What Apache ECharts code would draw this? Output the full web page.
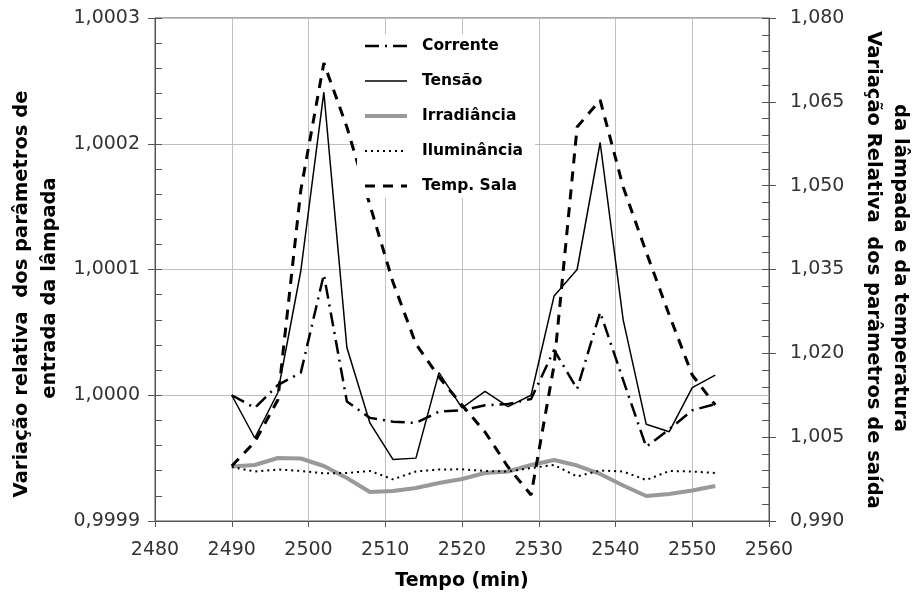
<!DOCTYPE html>
<html>
<head>
<meta charset="utf-8">
<script src="https://cdn.jsdelivr.net/npm/echarts@6/dist/echarts.min.js"></script>
<style>html,body{margin:0;padding:0;background:#fff;}#c{width:914px;height:598px;}</style>
</head>
<body>
<div id="c"></div>
<script>
const tempo = [2490,2493,2496,2499,2502,2505,2508,2511,2514,2517,2520,2523,2526,2529,2532,2535,2538,2541,2544,2547,2550,2553];
const corrente = [1.00000,0.99999,1.000008,1.000018,1.000096,0.999995,0.999982,0.999979,0.999978,0.999987,0.999988,0.999992,0.999993,0.999997,1.000036,1.000005,1.000066,1.000012,0.999959,0.999973,0.999988,0.999993];
const tensao = [1.00000,0.999966,1.000002,1.000099,1.000241,1.000038,0.999978,0.999949,0.99995,1.000018,0.99999,1.000003,0.999991,1.00000,1.000079,1.0001,1.000201,1.00006,0.999977,0.999971,1.000006,1.000016];
const irradiancia = [0.99975,1.00002,1.00127,1.00118,0.99984,0.99769,0.99519,0.99537,0.99590,0.99680,0.99751,0.99859,0.99886,1.00002,1.00091,0.99993,0.99841,0.99635,0.99447,0.99483,0.99546,0.99626];
const iluminancia = [0.99966,0.99886,0.99921,0.99895,0.99854,0.99859,0.99895,0.99746,0.99886,0.99921,0.99925,0.99895,0.99886,0.99948,1.00002,0.99796,0.99904,0.99886,0.99733,0.99895,0.99886,0.99859];
const tempSala = [0.99984,1.00414,1.01165,1.04922,1.07195,1.06050,1.04654,1.03276,1.02167,1.01576,1.01075,1.00592,0.99966,0.99465,1.01791,1.06050,1.06533,1.04976,1.03813,1.02686,1.01612,1.01075];

const seriesNames = ['Corrente','Tensão','Irradiância','Iluminância','Temp. Sala'];
const xTitle = 'Tempo (min)';
const leftTitle = ['Variação relativa  dos parâmetros de','entrada da lâmpada'];
const rightTitle = ['Variação Relativa  dos parâmetros de saída','da lâmpada e da temperatura'];

function pairs(ys){ return tempo.map((x,i)=>[x, ys[i]]); }

const labelFont = {fontFamily:'DejaVu Sans', fontSize:19, color:'#333'};
const axisColor = '#555';
const titleStyle = {fontFamily:'DejaVu Sans', fontWeight:'bold', fontSize:19.5, fill:'#000', textAlign:'center', textVerticalAlign:'middle'};

const styles = {
  'Corrente':    {color:'#000', width:2.5, type:[14,6,2,6]},
  'Tensão':      {color:'#000', width:1.5, type:'solid'},
  'Irradiância': {color:'#999', width:4, type:'solid'},
  'Iluminância': {color:'#000', width:2, type:[2,4]},
  'Temp. Sala':  {color:'#000', width:3, type:[10,8]}
};

const chart = echarts.init(document.getElementById('c'), null, {renderer:'canvas'});
chart.setOption({
  animation:false,
  backgroundColor:'#fff',
  grid:{left:155, right:145, top:18, bottom:77, show:true, borderColor:'#555', borderWidth:1, backgroundColor:'transparent'},
  legend:{
    orient:'vertical', left:357, top:34, padding:[4,12,4,6],
    backgroundColor:'#fff',
    itemWidth:42, itemHeight:14, itemGap:19,
    data:seriesNames.map(n=>({name:n, lineStyle:Object.assign({}, styles[n])})),
    itemStyle:{opacity:0},
    textStyle:{fontFamily:'DejaVu Sans', fontWeight:'bold', fontSize:15.5, color:'#000', padding:[0,0,0,10]}
  },
  xAxis:{
    type:'value', min:2480, max:2560, interval:10,
    axisLine:{lineStyle:{color:axisColor, width:1}},
    axisTick:{show:true, length:6, lineStyle:{color:axisColor}},
    axisLabel:Object.assign({margin:20, formatter:v=>String(v)}, labelFont),
    splitLine:{show:true, lineStyle:{color:'#c0c0c0', width:1}}
  },
  yAxis:[
    {type:'value', position:'left', min:0.9999, max:1.0003, interval:0.0001,
     axisLine:{show:true, lineStyle:{color:axisColor}},
     axisTick:{show:true, length:7, lineStyle:{color:axisColor}},
     axisLabel:Object.assign({margin:15, formatter:v=>v.toFixed(4).replace('.',',')}, labelFont),
     splitLine:{show:true, lineStyle:{color:'#c0c0c0', width:1}}},
    {type:'value', position:'right', min:0.990, max:1.080, interval:0.015,
     axisLine:{show:true, lineStyle:{color:axisColor}},
     axisTick:{show:true, length:7, lineStyle:{color:axisColor}},
     axisLabel:Object.assign({margin:21, formatter:v=>v.toFixed(3).replace('.',',')}, labelFont),
     splitLine:{show:false}},
    {type:'value', position:'left', min:0.9999, max:1.0003, interval:0.0001,
     axisLine:{show:false}, axisLabel:{show:false}, splitLine:{show:false},
     axisTick:{show:true, inside:true, length:7, lineStyle:{color:axisColor}},
     minorTick:{show:true, splitNumber:5, length:7, lineStyle:{color:axisColor}}},
    {type:'value', position:'right', min:0.990, max:1.080, interval:0.015,
     axisLine:{show:false}, axisLabel:{show:false}, splitLine:{show:false},
     axisTick:{show:true, inside:true, length:7, lineStyle:{color:axisColor}},
     minorTick:{show:true, splitNumber:5, length:7, lineStyle:{color:axisColor}}}
  ],
  series:[
    {name:'Irradiância', type:'line', yAxisIndex:1, data:pairs(irradiancia), symbol:'none',
     lineStyle:styles['Irradiância'], itemStyle:{color:'#999'}},
    {name:'Iluminância', type:'line', yAxisIndex:1, data:pairs(iluminancia), symbol:'none',
     lineStyle:styles['Iluminância'], itemStyle:{color:'#000'}},
    {name:'Corrente', type:'line', yAxisIndex:0, data:pairs(corrente), symbol:'none',
     lineStyle:styles['Corrente'], itemStyle:{color:'#000'}},
    {name:'Tensão', type:'line', yAxisIndex:0, data:pairs(tensao), symbol:'none',
     lineStyle:styles['Tensão'], itemStyle:{color:'#000'}},
    {name:'Temp. Sala', type:'line', yAxisIndex:1, data:pairs(tempSala), symbol:'none',
     lineStyle:styles['Temp. Sala'], itemStyle:{color:'#000'}}
  ],
  graphic:[
    {type:'text', x:462, y:581, style:{text:xTitle, fontFamily:'DejaVu Sans', fontWeight:'bold', fontSize:19, fill:'#000', textAlign:'center', textVerticalAlign:'middle'}},
    {type:'text', x:22, y:294, rotation:Math.PI/2, style:Object.assign({text:leftTitle[0]}, titleStyle)},
    {type:'text', x:50, y:288, rotation:Math.PI/2, style:Object.assign({text:leftTitle[1]}, titleStyle)},
    {type:'text', x:873, y:270, rotation:-Math.PI/2, style:Object.assign({text:rightTitle[0]}, titleStyle)},
    {type:'text', x:900, y:268, rotation:-Math.PI/2, style:Object.assign({text:rightTitle[1]}, titleStyle)}
  ]
});
</script>
</body>
</html>
